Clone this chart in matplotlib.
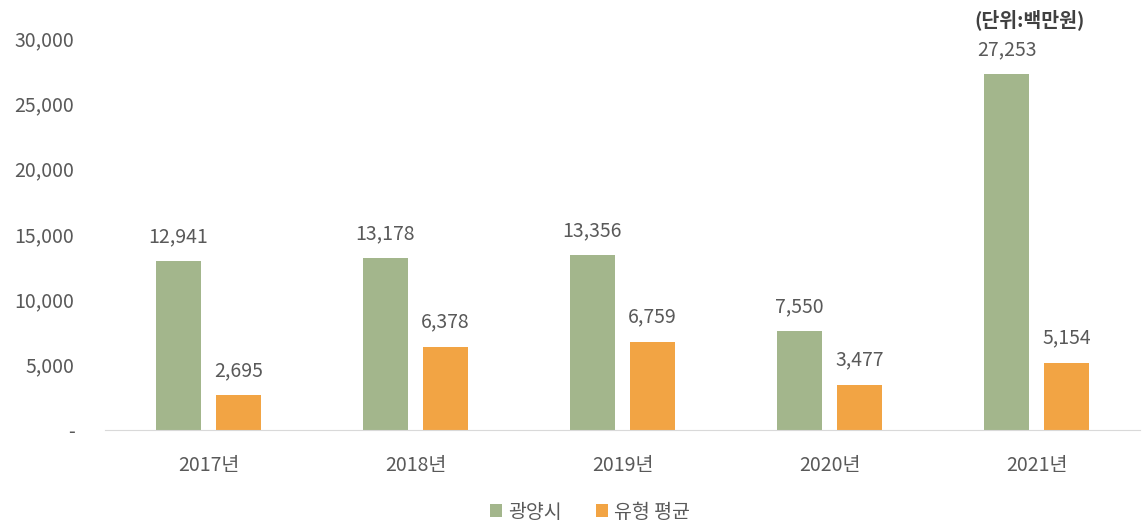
import matplotlib.pyplot as plt
import numpy as np

plt.rcParams['font.family'] = ['Noto Sans CJK KR', 'DejaVu Sans']

years = ['2017년', '2018년', '2019년', '2020년', '2021년']
gwangyang = [12941, 13178, 13356, 7550, 27253]
type_avg = [2695, 6378, 6759, 3477, 5154]

green = '#A3B68C'
orange = '#F2A444'
txt = '#595959'

fig = plt.figure(figsize=(11.44, 5.26), dpi=100)
ax = fig.add_axes([105 / 1144, 1 - 430 / 526, 1035 / 1144, (430 - 38) / 526])

x = np.arange(len(years))
w = 0.22
off = 0.145
b1 = ax.bar(x - off, gwangyang, w, color=green, label='광양시')
b2 = ax.bar(x + off, type_avg, w, color=orange, label='유형 평균')

for bars, vals in ((b1, gwangyang), (b2, type_avg)):
    for r, v in zip(bars, vals):
        ax.annotate(f'{v:,}', (r.get_x() + r.get_width() / 2, v),
                    xytext=(0, 10), textcoords='offset points',
                    ha='center', va='bottom', fontsize=14, color=txt,
                    annotation_clip=False)

ax.set_xlim(-0.5, len(years) - 0.5)
ax.set_ylim(0, 30000)
ax.set_yticks(range(0, 30001, 5000))
ax.set_yticklabels(['-'] + [f'{v:,}' for v in range(5000, 30001, 5000)])
ax.set_xticks(x)
ax.set_xticklabels(years)
ax.tick_params(axis='both', length=0, labelsize=14, labelcolor=txt)
ax.tick_params(axis='y', pad=22)
ax.tick_params(axis='x', pad=18)

for s in ['top', 'right', 'left']:
    ax.spines[s].set_visible(False)
ax.spines['bottom'].set_color('#D9D9D9')

fig.text(1030 / 1144, 1 - 20 / 526, '(단위:백만원)', ha='center', va='center',
         fontsize=14, fontweight='bold', color='#404040')

fig.legend(loc='center', bbox_to_anchor=(590 / 1144, 1 - 512 / 526), ncol=2,
           frameon=False, fontsize=14, labelcolor=txt,
           handlelength=0.6, handleheight=0.6, handletextpad=0.3,
           columnspacing=1.8)

fig.savefig('out.png', dpi=100)
